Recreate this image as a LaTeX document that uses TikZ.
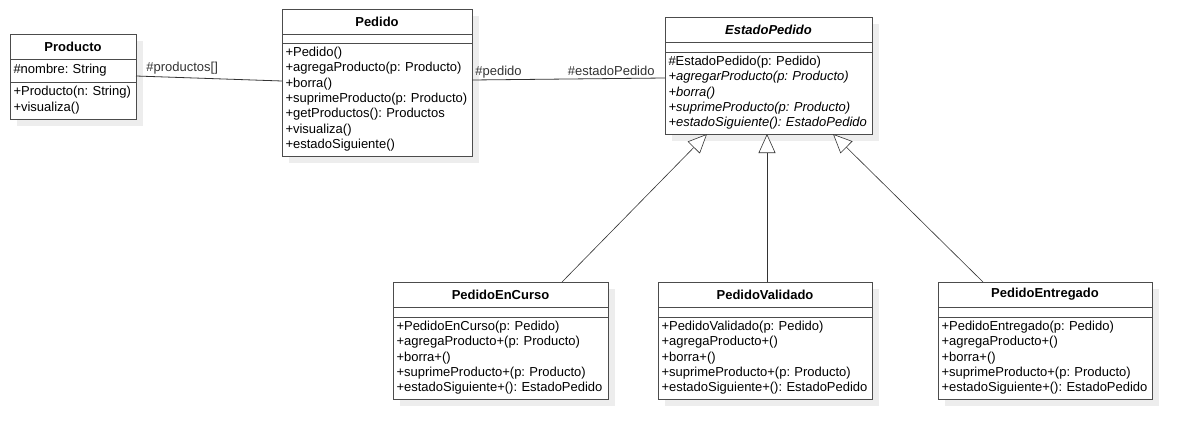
\documentclass[tikz,border=0pt]{standalone}
\usepackage{fontspec}
\setmainfont{Liberation Sans}
\usetikzlibrary{positioning, shadows, arrows.meta}

\newcommand{\members}[1]{\begin{tabular}{@{}l@{}}#1\end{tabular}}

\tikzset{
  classbox/.style={draw=black!70, line width=0.9pt, fill=white, inner sep=0pt, outer sep=0pt,
    general shadow={fill=black!7, shadow xshift=7pt, shadow yshift=-7pt}},
  classname/.style={classbox, anchor=north west, minimum height=25pt,
    font=\fontsize{13}{15.3}\selectfont\bfseries},
  classpart/.style={classbox, align=left, inner xsep=3.5pt},
  rolelabel/.style={inner sep=1.5pt},
  assoc/.style={black!80, line width=0.8pt},
  inherits/.style={-{Triangle[length=19pt, width=17pt, fill=white]}, black!80, line width=0.6pt}
}

\begin{document}
\frenchspacing
\begin{tikzpicture}[x=1pt, y=-1pt, font=\fontsize{13}{15.3}\selectfont\frenchspacing]
    \useasboundingbox (0,0) rectangle (1192,439);

    %define the classes
    \node[classname, minimum width=126pt] (producto) at (10,34) {Producto};
    \node[classpart, below=0pt of producto, text width=119pt, minimum height=23pt] (producto-attr)
      {\members{\#nombre: String}};
    \node[classpart, below=0pt of producto-attr, text width=119pt, minimum height=37pt] (producto-ops)
      {\members{+Producto(n: String)\\+visualiza()}};

    \node[classname, minimum width=190pt] (pedido) at (282,9) {Pedido};
    \node[classpart, below=0pt of pedido, text width=183pt, minimum height=9pt] (pedido-attr) {};
    \node[classpart, below=0pt of pedido-attr, text width=183pt, minimum height=113pt] (pedido-ops)
      {\members{+Pedido()\\+agregaProducto(p: Producto)\\+borra()\\+suprimeProducto(p: Producto)\\
       +getProductos(): Productos\\+visualiza()\\+estadoSiguiente()}};

    \node[classname, minimum width=207pt, font=\fontsize{13}{15.3}\selectfont\bfseries\itshape] (estado) at (665,17) {EstadoPedido};
    \node[classpart, below=0pt of estado, text width=200pt, minimum height=10pt] (estado-attr) {};
    \node[classpart, below=0pt of estado-attr, text width=200pt, minimum height=82pt] (estado-ops)
      {\members{\#EstadoPedido(p: Pedido)\\\textit{+agregarProducto(p: Producto)}\\\textit{+borra()}\\
       \textit{+suprimeProducto(p: Producto)}\\\textit{+estadoSiguiente(): EstadoPedido}}};

    \node[classname, minimum width=215pt] (encurso) at (393,282) {PedidoEnCurso};
    \node[classpart, below=0pt of encurso, text width=208pt, minimum height=10pt] (encurso-attr) {};
    \node[classpart, below=0pt of encurso-attr, text width=208pt, minimum height=82pt] (encurso-ops)
      {\members{+PedidoEnCurso(p: Pedido)\\+agregaProducto+(p: Producto)\\+borra+()\\
       +suprimeProducto+(p: Producto)\\+estadoSiguiente+(): EstadoPedido}};

    \node[classname, minimum width=214pt] (validado) at (658,282) {PedidoValidado};
    \node[classpart, below=0pt of validado, text width=207pt, minimum height=10pt] (validado-attr) {};
    \node[classpart, below=0pt of validado-attr, text width=207pt, minimum height=82pt] (validado-ops)
      {\members{+PedidoValidado(p: Pedido)\\+agregaProducto+()\\+borra+()\\
       +suprimeProducto+(p: Producto)\\+estadoSiguiente+(): EstadoPedido}};

    \node[classname, minimum width=214pt] (entregado) at (938,282) {PedidoEntregado};
    \node[classpart, below=0pt of entregado, text width=207pt, minimum height=10pt] (entregado-attr) {};
    \node[classpart, below=0pt of entregado-attr, text width=207pt, minimum height=82pt] (entregado-ops)
      {\members{+PedidoEntregado(p: Pedido)\\+agregaProducto+()\\+borra+()\\
       +suprimeProducto+(p: Producto)\\+estadoSiguiente+(): EstadoPedido}};

    %define the links
    \draw[assoc] ([yshift=-5.5pt]producto-attr.east)
      -- node[rolelabel, pos=0, anchor=south west, xshift=8.5pt] {\#productos[]}
      ([yshift=18.5pt]pedido-ops.west);
    \draw[assoc] ([yshift=19.5pt]pedido-ops.east)
      -- node[rolelabel, pos=0, anchor=south west, xshift=1.5pt] {\#pedido}
         node[rolelabel, pos=1, anchor=south east, xshift=-8.5pt] {\#estadoPedido}
      ([yshift=15pt]estado-ops.west);

    \draw[inherits] ([xshift=61.5pt]encurso.north) -- ([xshift=-61.5pt]estado-ops.south);
    \draw[inherits] ([xshift=2pt]validado.north) -- ([xshift=-1.5pt]estado-ops.south);
    \draw[inherits] ([xshift=-62pt]entregado.north) -- ([xshift=64.5pt]estado-ops.south);
\end{tikzpicture}
\end{document}
